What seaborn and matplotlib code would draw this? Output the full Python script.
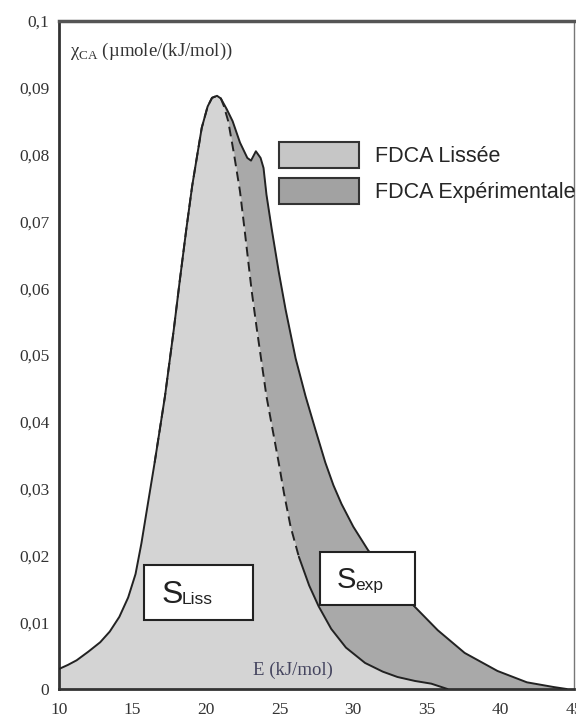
import numpy as np
import pandas as pd
import matplotlib
matplotlib.use('Agg')
import matplotlib.pyplot as plt
import seaborn as sns
from matplotlib.patches import Patch, Rectangle

# shared rising side of both curves (E in kJ/mol, chi in umole/(kJ/mol))
e_left = [10.0, 10.6, 11.2, 12.0, 12.8, 13.45, 14.1, 14.7, 15.2, 15.6, 16.0,
          16.5, 17.2, 17.8, 18.2, 18.65, 19.05, 19.4, 19.7, 20.1, 20.4, 20.74]
chi_left = [0.0030, 0.0036, 0.0043, 0.0056, 0.0070, 0.0086, 0.0108, 0.0137, 0.0172, 0.0218, 0.0272,
            0.0339, 0.0438, 0.0538, 0.0610, 0.0688, 0.0753, 0.0800, 0.0840, 0.0872, 0.0885, 0.0888]

# falling side of the smoothed FDCA
e_liss_right = [21.0, 21.2, 21.5, 21.9, 22.3, 22.6, 23.1, 23.45, 24.1, 24.93, 25.3, 25.74, 26.3,
                27.0, 27.64, 28.5, 29.5, 30.8, 32.0, 33.0, 34.2, 35.3, 36.4]
chi_liss_right = [0.0884, 0.0873, 0.0850, 0.0800, 0.0745, 0.0690, 0.0595, 0.0538, 0.0438, 0.0339, 0.0292, 0.0243, 0.0198,
                  0.0155, 0.0124, 0.0090, 0.0062, 0.0039, 0.0026, 0.0018, 0.0012, 0.0008, 0.0]

# falling side of the experimental FDCA
e_exp_right = [21.0, 21.4, 21.8, 22.3, 22.8, 23.05, 23.38, 23.7, 23.9, 24.1, 24.46, 24.93, 25.4,
               26.08, 26.76, 27.43, 28.1, 28.65, 29.2, 30.0, 31.0, 32.5, 34.05, 35.74, 37.57,
               39.8, 41.8, 43.6, 44.5]
chi_exp_right = [0.0884, 0.0868, 0.0850, 0.0818, 0.0795, 0.0791, 0.0805, 0.0795, 0.0780, 0.0740, 0.0688, 0.0625, 0.0568,
                 0.0495, 0.0438, 0.0388, 0.0339, 0.0305, 0.0277, 0.0243, 0.0208, 0.0165, 0.0126, 0.0088, 0.0054,
                 0.0027, 0.0010, 0.0003, 0.0]

x_ticks = [10, 15, 20, 25, 30, 35, 40, 45]
y_ticks = [0, 0.01, 0.02, 0.03, 0.04, 0.05, 0.06, 0.07, 0.08, 0.09, 0.1]
y_tick_labels = ['0', '0,01', '0,02', '0,03', '0,04', '0,05', '0,06', '0,07', '0,08', '0,09', '0,1']
legend_labels = ['FDCA Lissée', 'FDCA Expérimentale']

light = '#d4d4d4'
dark = '#a9a9a9'
ink = '#222222'

liss = pd.DataFrame({'E': e_left + e_liss_right, 'chi': chi_left + chi_liss_right})
exp = pd.DataFrame({'E': e_left + e_exp_right, 'chi': chi_left + chi_exp_right})

sns.set_theme(style='white')
plt.rcParams['font.family'] = ['Liberation Serif', 'DejaVu Serif']
plt.rcParams['mathtext.fontset'] = 'custom'
plt.rcParams['mathtext.rm'] = 'Liberation Serif'

W, H = 576, 718
fig = plt.figure(figsize=(W / 100, H / 100), dpi=100)
ax = fig.add_axes([59 / W, 1 - 689 / H, (574 - 59) / W, (689 - 21) / H])

ax.fill_between(exp['E'], exp['chi'], color=dark, lw=0, zorder=1)
ax.fill_between(liss['E'], liss['chi'], color=light, lw=0, zorder=2)

sns.lineplot(data=exp, x='E', y='chi', color=ink, lw=1.4, estimator=None, ax=ax, zorder=3)
dashed = liss[(liss['E'] >= 16.5) & (liss['E'] <= 26.3)]
solid = liss[liss['E'] >= 26.3]
sns.lineplot(data=dashed, x='E', y='chi', color=ink, lw=1.4, estimator=None, ax=ax,
             linestyle=(0, (5, 2.8)), zorder=3)
sns.lineplot(data=solid, x='E', y='chi', color=ink, lw=1.4, estimator=None, ax=ax, zorder=3)

ax.set_xlim(10, 45)
ax.set_ylim(0, 0.1)
ax.set_xticks(x_ticks)
ax.set_xticklabels([str(t) for t in x_ticks])
ax.set_yticks(y_ticks)
ax.set_yticklabels(y_tick_labels)
ax.set_xlabel('')
ax.set_ylabel('')
ax.tick_params(axis='both', labelsize=12.5, labelcolor='#333333', length=3, width=1,
               color='#555555', direction='out', pad=4)
ax.tick_params(axis='x', pad=6)
for side in ['left', 'bottom']:
    ax.spines[side].set_linewidth(2)
    ax.spines[side].set_color('#333333')
ax.spines['top'].set_linewidth(2.5)
ax.spines['top'].set_color('#555555')
ax.spines['right'].set_linewidth(1)
ax.spines['right'].set_color('#777777')

ax.text(0.021, 0.954, r'$\mathrm{χ}_{\mathrm{CA}}$ (µmole/(kJ/mol))', transform=ax.transAxes,
        fontsize=13.5, color='#333333', va='center', ha='left')
ax.text(25.9, 0.0028, 'E (kJ/mol)', fontsize=13.5, color='#44445e', ha='center', va='center')

handles = [Patch(facecolor='#c6c6c6', edgecolor='#333333', lw=1.5),
           Patch(facecolor='#a2a2a2', edgecolor='#333333', lw=1.5)]
fig.legend(handles, legend_labels, loc='upper left', bbox_to_anchor=(279 / W, 1 - 142 / H),
           frameon=False, prop={'family': 'Liberation Sans', 'size': 15.5},
           handlelength=3.7, handleheight=1.5, handletextpad=0.75, labelspacing=0.45,
           borderpad=0, borderaxespad=0)

# boxes for the surface labels
for x0, y0, x1, y1 in [(144, 565, 253, 620), (320, 552, 415, 605)]:
    fig.patches.append(Rectangle((x0 / W, 1 - y1 / H), (x1 - x0) / W, (y1 - y0) / H,
                                 transform=fig.transFigure, facecolor='white',
                                 edgecolor='#222222', lw=1.5, zorder=5))
sans = 'Liberation Sans'
fig.text(162 / W, 1 - 603 / H, 'S', fontsize=23, family=sans, color='#222222', zorder=6)
fig.text(182 / W, 1 - 604 / H, 'Liss', fontsize=12.5, family=sans, color='#222222', zorder=6)
fig.text(337 / W, 1 - 588 / H, 'S', fontsize=21, family=sans, color='#222222', zorder=6)
fig.text(355 / W, 1 - 590 / H, 'exp', fontsize=12.5, family=sans, color='#222222', zorder=6)

fig.savefig('out.png', dpi=100)
